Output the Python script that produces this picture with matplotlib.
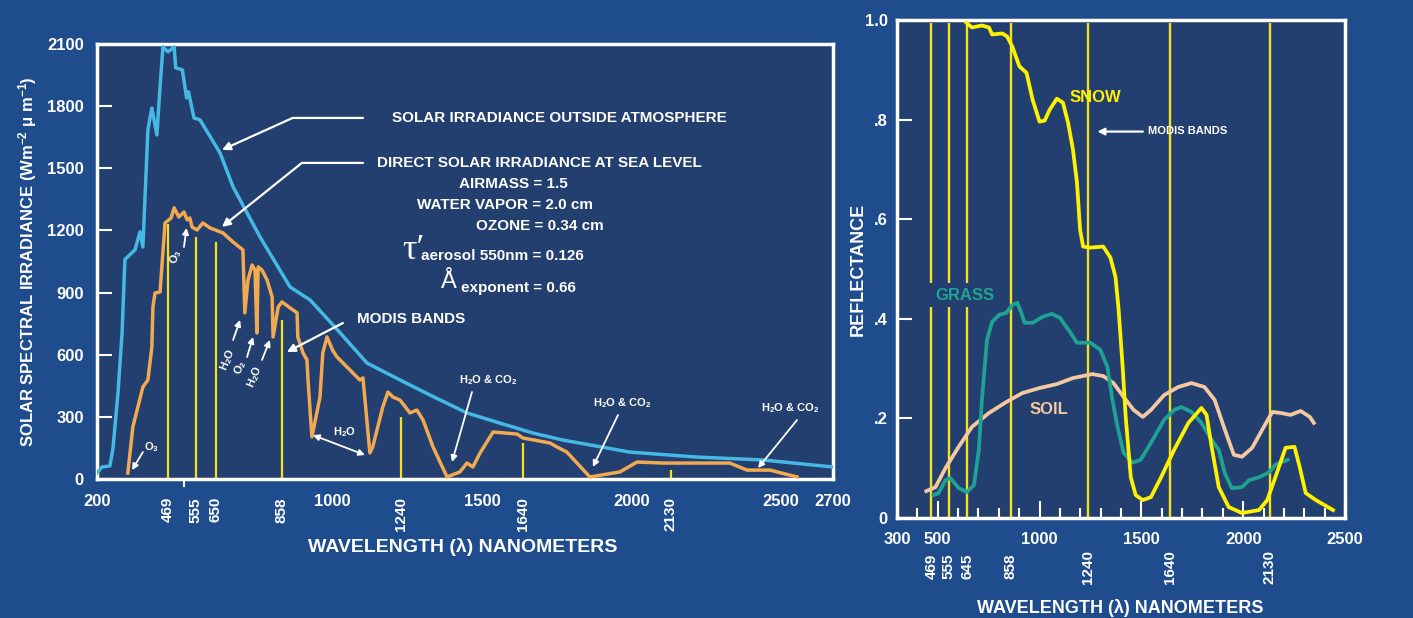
import matplotlib.pyplot as plt
import numpy as np

# ---- left panel: solar spectral irradiance (W m-2 um-1) ----
toa_nm = [200, 219, 249, 261, 280, 295, 306, 344, 363, 374,
          393, 408, 427, 439, 450, 469, 481, 484, 497, 512,
          521, 546, 574, 663, 704, 789, 881, 938, 1003, 1122,
          1237, 1346, 1452, 1561, 1673, 1772, 1993, 2217, 2439, 2700]
toa_irr = [29, 58, 63, 150, 420, 700, 1060, 1106, 1193, 1120,
           1685, 1791, 1661, 1893, 2086, 2062, 2086, 1985, 1975, 1840,
           1869, 1743, 1734, 1574, 1410, 1168, 927, 864, 745, 560,
           478, 396, 319, 270, 222, 188, 130, 106, 92, 58]

sea_nm = [317, 336, 374, 393, 408, 412, 420, 439, 458, 475,
          481, 490, 500, 515, 527, 537, 560, 588, 622, 672,
          704, 735, 741, 751, 764, 773, 779, 783, 795, 811,
          827, 830, 846, 858, 881, 901, 903, 918, 929, 932,
          943, 957, 966, 974, 986, 1003, 1017, 1097, 1108, 1132,
          1142, 1177, 1195, 1212, 1237, 1269, 1291, 1311, 1343, 1388,
          1429, 1452, 1471, 1494, 1538, 1620, 1640, 1729, 1752, 1785,
          1861, 1960, 2017, 2103, 2328, 2386, 2463, 2562]
sea_irr = [29, 251, 444, 478, 637, 830, 898, 903, 1236, 1260,
           1309, 1265, 1289, 1251, 1260, 1217, 1202, 1236, 1212, 1188,
           1144, 1106, 802, 961, 1033, 1009, 705, 1024, 1009, 961,
           879, 686, 830, 855, 826, 802, 686, 608, 575, 478,
           203, 319, 396, 608, 686, 620, 590, 478, 488, 126,
           155, 348, 420, 396, 381, 319, 333, 285, 155, 10,
           34, 77, 58, 126, 227, 217, 198, 174, 155, 130,
           10, 34, 82, 77, 77, 43, 43, 10]

band_nm = [469, 555, 650, 858, 1240, 1640, 2130]
band_top = [1230, 1170, 1144, 768, 300, 174, 43]

irr_ticks = [0, 300, 600, 900, 1200, 1500, 1800, 2100]
left_ticks = [200, 1000, 1500, 2000, 2500, 2700]
left_minor = [500, 1000, 1500, 2000, 2500]

# ---- right panel: reflectance ----
snow_nm = [640, 668, 717, 752, 767, 817, 841, 866, 901, 936,
           966, 1000, 1025, 1050, 1085, 1115, 1140, 1164, 1184, 1199,
           1214, 1249, 1313, 1348, 1373, 1388, 1408, 1423, 1448, 1472,
           1507, 1547, 1597, 1661, 1731, 1795, 1820, 1845, 1880, 1929,
           1994, 2078, 2118, 2158, 2208, 2252, 2277, 2307, 2357, 2441]
snow_ref = [0.995, 0.985, 0.989, 0.985, 0.971, 0.973, 0.967, 0.947, 0.907, 0.894,
            0.840, 0.796, 0.798, 0.820, 0.842, 0.834, 0.794, 0.740, 0.673, 0.579,
            0.545, 0.543, 0.545, 0.523, 0.484, 0.420, 0.304, 0.203, 0.082, 0.046,
            0.036, 0.042, 0.082, 0.137, 0.191, 0.221, 0.207, 0.143, 0.062, 0.022,
            0.010, 0.016, 0.036, 0.082, 0.141, 0.143, 0.103, 0.050, 0.036, 0.016]

grass_nm = [479, 504, 538, 563, 603, 643, 678, 702, 717, 742,
            767, 802, 837, 866, 891, 911, 926, 966, 1015, 1060,
            1100, 1149, 1184, 1249, 1298, 1333, 1358, 1383, 1413, 1457,
            1497, 1547, 1612, 1661, 1696, 1746, 1795, 1845, 1880, 1910,
            1944, 1994, 2029, 2078, 2128, 2158, 2218]
grass_ref = [0.046, 0.050, 0.076, 0.080, 0.060, 0.052, 0.066, 0.137, 0.237, 0.358,
             0.394, 0.408, 0.412, 0.428, 0.432, 0.412, 0.392, 0.392, 0.404, 0.410,
             0.402, 0.374, 0.352, 0.352, 0.338, 0.304, 0.237, 0.183, 0.131, 0.111,
             0.117, 0.151, 0.197, 0.217, 0.223, 0.213, 0.191, 0.157, 0.137, 0.090,
             0.060, 0.062, 0.076, 0.082, 0.092, 0.107, 0.117]

soil_nm = [444, 489, 538, 603, 668, 752, 837, 916, 1000, 1085,
           1164, 1259, 1313, 1363, 1413, 1462, 1507, 1547, 1612, 1681,
           1746, 1810, 1860, 1910, 1954, 1994, 2044, 2093, 2143, 2183,
           2232, 2282, 2327, 2347]
soil_ref = [0.054, 0.062, 0.100, 0.143, 0.183, 0.211, 0.233, 0.251, 0.261, 0.269,
            0.281, 0.289, 0.285, 0.271, 0.243, 0.217, 0.203, 0.217, 0.247, 0.263,
            0.271, 0.263, 0.237, 0.177, 0.127, 0.123, 0.141, 0.177, 0.213, 0.211,
            0.207, 0.215, 0.203, 0.191]

refl_band_nm = [469, 555, 645, 858, 1240, 1640, 2130]
refl_ticks = [0, 0.2, 0.4, 0.6, 0.8, 1.0]
refl_labels = ["0", ".2", ".4", ".6", ".8", "1.0"]
right_ticks = [300, 500, 1000, 1500, 2000, 2500]
right_minor = [v for v in range(400, 2500, 100) if v % 500]

# colours
BG = "#1e4c8c"
AX_BG = "#233f6f"
CYAN = "#45b8e4"
ORANGE = "#f2a94f"
BAND = "#f4e21c"
SNOW = "#fff200"
GRASS = "#1ea393"
SOIL = "#f4c9a2"

# the printed wavelength axis of the left panel is not evenly spaced
AXIS_NM = [-10000, 200, 469, 500, 555, 650, 858, 1000, 1240, 1500, 1640, 2000, 2130, 2500, 2700, 100000]
AXIS_POS = [-4.08, 0, 0.0965, 0.1182, 0.1345, 0.1617, 0.2514, 0.3193, 0.4130, 0.5231, 0.5788,
            0.7269, 0.7799, 0.9293, 1.0, 39.92]


def fwd(x):
    return np.interp(x, AXIS_NM, AXIS_POS)


def inv(p):
    return np.interp(p, AXIS_POS, AXIS_NM)


plt.rcParams["font.family"] = ["Liberation Sans", "DejaVu Sans"]
plt.rcParams["font.weight"] = "bold"
plt.rcParams["axes.labelweight"] = "bold"
plt.rcParams["mathtext.fontset"] = "custom"
plt.rcParams["mathtext.rm"] = "Liberation Sans:bold"
plt.rcParams["mathtext.bf"] = "Liberation Sans:bold"
plt.rcParams["mathtext.it"] = "Liberation Sans:bold:italic"
plt.rcParams["text.color"] = "white"


def style(ax):
    ax.set_facecolor(AX_BG)
    for sp in ax.spines.values():
        sp.set_color("white")
        sp.set_linewidth(2.5)
    ax.tick_params(colors="white", labelcolor="white")


def arrow(ax, tail, head, style_="-|>", conn="arc3", lw=1.6, ms=12):
    ax.annotate("", xy=head, xytext=tail,
                arrowprops=dict(arrowstyle=style_, color="white", lw=lw,
                                shrinkA=0, shrinkB=0, connectionstyle=conn,
                                mutation_scale=ms))


fig = plt.figure(figsize=(14.13, 6.18), dpi=100)
fig.patch.set_facecolor(BG)

# ---------------- left panel ----------------
ax1 = fig.add_axes([0.0686, 0.2249, 0.5209, 0.7039])
style(ax1)
ax1.vlines(band_nm, 0, band_top, color=BAND, lw=1.6, zorder=2)
ax1.plot(toa_nm, toa_irr, color=CYAN, lw=2.5, zorder=3)
ax1.plot(sea_nm, sea_irr, color=ORANGE, lw=2.5, zorder=3)
ax1.set_xscale("function", functions=(fwd, inv))
ax1.set_xlim(200, 2700)
ax1.set_ylim(0, 2100)

ax1.set_xticks(left_ticks, labels=[str(v) for v in left_ticks])
ax1.set_xticks(left_minor, minor=True)
ax1.tick_params(axis="x", which="major", length=0, pad=11, labelsize=12)
ax1.tick_params(axis="x", which="minor", length=6, width=1.5, direction="out", color="white")
ax1.set_yticks(irr_ticks)
ax1.tick_params(axis="y", direction="in", length=11, width=1.5, pad=9.5, labelsize=12, color="white")

for nm in band_nm:
    ax1.annotate(str(nm), xy=(nm, 0), xycoords=ax1.get_xaxis_transform(),
                 xytext=(0, -13), textcoords="offset points", rotation=90,
                 ha="center", va="top", fontsize=11)

ax1.set_ylabel(r"SOLAR SPECTRAL IRRADIANCE (Wm$^{-2}$ μ m$^{-1}$)", fontsize=12, color="white")
ax1.yaxis.set_label_coords(-0.094, 0.5)
ax1.yaxis.label.set_va("center")
ax1.set_xlabel("WAVELENGTH (λ) NANOMETERS", fontsize=14, color="white")
ax1.xaxis.set_label_coords(0.497, -0.156)
ax1.xaxis.label.set_va("center")

# labels and leaders
ax1.text(1209, 1743, "SOLAR IRRADIANCE OUTSIDE ATMOSPHERE", ha="left", va="center", fontsize=11)
arrow(ax1, (1108, 1743), (669, 1589), conn="angle,angleA=0,angleB=24.3,rad=0")
ax1.text(1157, 1526, "DIRECT SOLAR IRRADIANCE AT SEA LEVEL", ha="left", va="center", fontsize=11)
arrow(ax1, (1108, 1526), (669, 1217), conn="angle,angleA=0,angleB=38.7,rad=0")
ax1.text(1609, 1424, "AIRMASS = 1.5", ha="center", va="center", fontsize=11)
ax1.text(1579, 1323, "WATER VAPOR = 2.0 cm", ha="center", va="center", fontsize=11)
ax1.text(1696, 1222, "OZONE = 0.34 cm", ha="center", va="center", fontsize=11)
ax1.text(1244, 1105, "τ′", ha="left", va="center", fontsize=26,
         family=["Liberation Serif", "DejaVu Serif"], fontweight="normal")
ax1.text(1306, 1077, "aerosol 550nm = 0.126", ha="left", va="center", fontsize=11)
ax1.text(1368, 950, "Å", ha="left", va="center", fontsize=17, fontweight="normal")
ax1.text(1434, 922, "exponent = 0.66", ha="left", va="center", fontsize=11)
ax1.text(1087, 773, "MODIS BANDS", ha="left", va="center", fontsize=11)
arrow(ax1, (1038, 753), (872, 613))

small = dict(fontsize=8, ha="center", va="center")
ax1.text(408, 155, r"O$_3$", **small)
arrow(ax1, (374, 130), (333, 43), lw=1.3, ms=9)
ax1.text(484, 1072, r"O$_3$", rotation=72, **small)
arrow(ax1, (500, 1120), (512, 1212), lw=1.3, ms=9)
ax1.text(688, 575, r"H$_2$O", rotation=68, **small)
ax1.text(726, 536, r"O$_2$", rotation=68, **small)
ax1.text(773, 493, r"H$_2$O", rotation=68, **small)
arrow(ax1, (704, 671), (726, 768), lw=1.3, ms=9)
arrow(ax1, (748, 589), (767, 686), lw=1.3, ms=9)
arrow(ax1, (795, 575), (820, 671), lw=1.3, ms=9)
ax1.text(1045, 225, r"H$_2$O", **small)
arrow(ax1, (946, 212), (1115, 116), style_="<|-|>", lw=1.3, ms=9)
ax1.text(1520, 478, r"H$_2$O & CO$_2$", **small)
arrow(ax1, (1468, 420), (1404, 82), lw=1.3, ms=9)
ax1.text(1967, 367, r"H$_2$O & CO$_2$", **small)
arrow(ax1, (1954, 309), (1871, 58), lw=1.3, ms=9)
ax1.text(2535, 343, r"H$_2$O & CO$_2$", **small)
arrow(ax1, (2562, 285), (2423, 53), lw=1.3, ms=9)

# ---------------- right panel ----------------
ax2 = fig.add_axes([0.6348, 0.1618, 0.3171, 0.8058])
style(ax2)
gap_lo, gap_hi = 0.424, 0.472
for nm in refl_band_nm:
    if nm < 700:
        ax2.vlines(nm, 0, gap_lo, color=BAND, lw=1.7, zorder=2)
        ax2.vlines(nm, gap_hi, 0.995, color=BAND, lw=1.7, zorder=2)
    else:
        ax2.vlines(nm, 0, 0.995, color=BAND, lw=1.7, zorder=2)
ax2.plot(soil_nm, soil_ref, color=SOIL, lw=2.7, zorder=3)
ax2.plot(grass_nm, grass_ref, color=GRASS, lw=2.7, zorder=3)
ax2.plot(snow_nm, snow_ref, color=SNOW, lw=2.7, zorder=4)
ax2.set_xlim(300, 2500)
ax2.set_ylim(0, 1.0)

ax2.set_xticks(right_ticks, labels=[str(v) for v in right_ticks])
ax2.set_xticks(right_minor, minor=True)
ax2.tick_params(axis="x", which="major", direction="in", length=12, width=1.5, pad=10,
                labelsize=12, color="white")
ax2.tick_params(axis="x", which="minor", direction="in", length=7, width=1.5, color="white")
ax2.set_yticks(refl_ticks, labels=refl_labels)
ax2.tick_params(axis="y", direction="in", length=11, width=1.5, pad=6.5, labelsize=12, color="white")

for nm in refl_band_nm:
    ax2.annotate(str(nm), xy=(nm, 0), xycoords=ax2.get_xaxis_transform(),
                 xytext=(0, -35), textcoords="offset points", rotation=90,
                 ha="center", va="center", fontsize=11)

ax2.set_ylabel("REFLECTANCE", fontsize=13, color="white")
ax2.yaxis.set_label_coords(-0.087, 0.5)
ax2.yaxis.label.set_va("center")
ax2.set_xlabel("WAVELENGTH (λ) NANOMETERS", fontsize=13, color="white")
ax2.xaxis.set_label_coords(0.498, -0.181)
ax2.xaxis.label.set_va("center")

ax2.text(1149, 0.844, "SNOW", color=SNOW, fontsize=12, ha="left", va="center")
ax2.text(489, 0.446, "GRASS", color=GRASS, fontsize=12, ha="left", va="center")
ax2.text(951, 0.217, "SOIL", color=SOIL, fontsize=12, ha="left", va="center")
ax2.text(1532, 0.778, "MODIS BANDS", fontsize=8, ha="left", va="center")
arrow(ax2, (1507, 0.776), (1284, 0.776), lw=1.6, ms=10)

fig.savefig("out.png", dpi=100, facecolor=BG)
